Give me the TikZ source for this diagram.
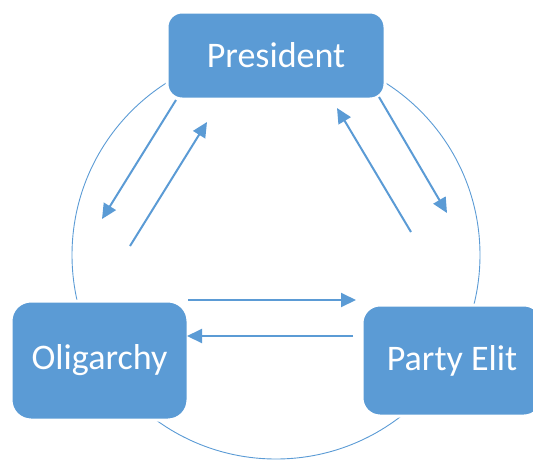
\documentclass[tikz,border=0pt]{standalone}
\usepackage{fontspec}
\setmainfont{Carlito}
\usetikzlibrary{arrows.meta}
\definecolor{obl}{HTML}{5B9BD5}
\tikzset{
  box/.style={fill=obl, draw=white, line width=3pt, text=white,
    font=\fontsize{36}{40}\selectfont, inner sep=0pt},
  conn/.style={draw=obl, line width=2pt, -{Triangle[length=15pt,width=14pt]}},
  ring/.style={draw=obl, line width=0.9pt}
}
\begin{document}
\begin{tikzpicture}[x=1pt,y=-1pt]
\clip (0,0) rectangle (533,459);
\useasboundingbox (0,0) rectangle (533,459);
\draw[ring] (276,255) circle[radius=204];
\node[box, rounded corners=15pt, minimum width=218pt, minimum height=87pt] (pres) at (276,55.5) {President};
\node[box, rounded corners=20pt, minimum width=177pt, minimum height=119pt] (olig) at (99.5,360.5) {Oligarchy};
\node[box, rounded corners=18pt, minimum width=180pt, minimum height=111pt] (elit) at (452,360.5) {Party Elit};
\coordinate (a1s) at (176,100); \coordinate (a1e) at (102,219);
\coordinate (a2s) at (130,246); \coordinate (a2e) at (207,122);
\coordinate (a3s) at (411,232); \coordinate (a3e) at (337,108);
\coordinate (a4s) at (379,97);  \coordinate (a4e) at (447,213);
\coordinate (a5s) at (188,300); \coordinate (a5e) at (356,300);
\coordinate (a6s) at (353,336); \coordinate (a6e) at (187,336);
\draw[conn] (a1s) -- (a1e);
\draw[conn] (a2s) -- (a2e);
\draw[conn] (a3s) -- (a3e);
\draw[conn] (a4s) -- (a4e);
\draw[conn] (a5s) -- (a5e);
\draw[conn] (a6s) -- (a6e);
\end{tikzpicture}
\end{document}
